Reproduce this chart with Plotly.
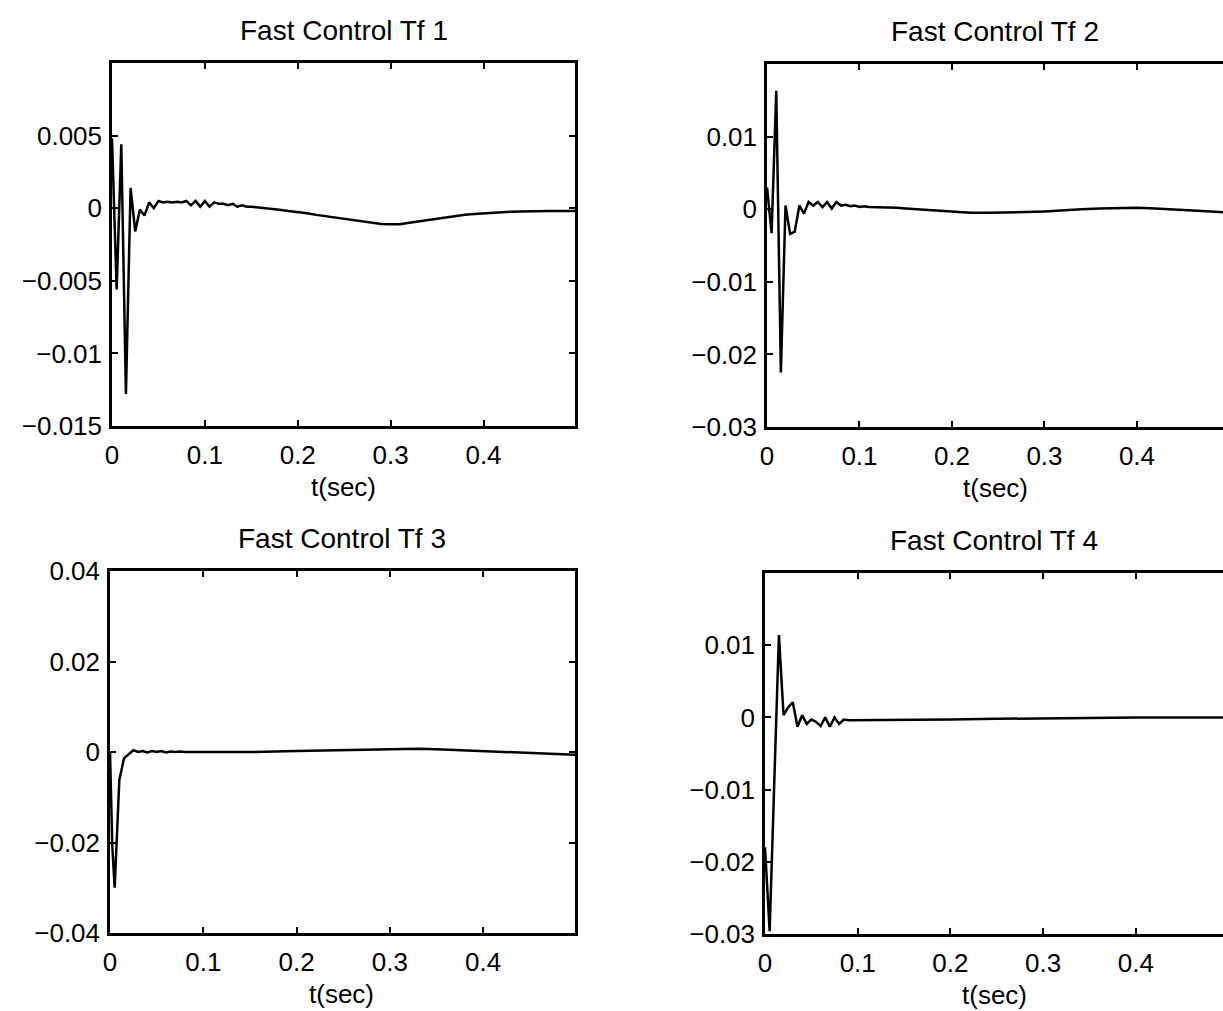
import plotly.graph_objects as go

# ---------------- data ----------------
t1 = [0, 0.005, 0.01, 0.015, 0.02, 0.025, 0.03, 0.035, 0.04, 0.045, 0.05, 0.055, 0.06, 0.065,
      0.07, 0.075, 0.08, 0.085, 0.09, 0.095, 0.1, 0.105, 0.11, 0.115, 0.12, 0.125, 0.13, 0.135,
      0.14, 0.145, 0.15, 0.16, 0.17, 0.18, 0.19, 0.2, 0.21, 0.22, 0.23, 0.24, 0.25, 0.26, 0.27,
      0.28, 0.29, 0.3, 0.31, 0.32, 0.33, 0.34, 0.35, 0.36, 0.37, 0.38, 0.39, 0.4, 0.41, 0.42,
      0.43, 0.44, 0.45, 0.46, 0.47, 0.48, 0.49, 0.4985]
u1 = [0.0048, -0.0056, 0.0044, -0.0128, 0.0014, -0.0016, -0.0001, -0.0005, 0.0004, 0.0000,
      0.0005, 0.0004, 0.00045, 0.0004, 0.00045, 0.0004, 0.0005, 0.0002, 0.0005, 0.0001, 0.0005,
      0.0001, 0.0004, 0.0003, 0.0003, 0.0002, 0.0003, 0.0001, 0.0002, 0.0001, 0.0001, 0.00005,
      -0.00003, -0.0001, -0.0002, -0.00025, -0.00035, -0.00046, -0.00055, -0.00065, -0.00075,
      -0.00085, -0.00095, -0.001, -0.00108, -0.0011, -0.0011, -0.001, -0.0009, -0.0008, -0.0007,
      -0.0006, -0.0005, -0.00045, -0.0004, -0.00035, -0.0003, -0.00027, -0.00024, -0.00022,
      -0.0002, -0.0002, -0.0002, -0.0002, -0.0002, -0.0002]

t2 = [0, 0.005, 0.01, 0.015, 0.02, 0.025, 0.03, 0.035, 0.04, 0.045, 0.05, 0.055, 0.06, 0.065,
      0.07, 0.075, 0.08, 0.085, 0.09, 0.095, 0.1, 0.105, 0.11, 0.12, 0.13, 0.14, 0.15, 0.16,
      0.17, 0.18, 0.19, 0.2, 0.22, 0.24, 0.26, 0.28, 0.3, 0.32, 0.34, 0.36, 0.38, 0.4, 0.42,
      0.44, 0.46, 0.48, 0.5]
u2 = [0.003, -0.0033, 0.0163, -0.0225, 0.0005, -0.0034, -0.0031, 0.0005, -0.0006, 0.0010,
      0.0005, 0.0010, 0.0003, 0.0010, 0.0001, 0.0010, 0.0005, 0.0006, 0.0004, 0.0005, 0.0003,
      0.0004, 0.0003, 0.0003, 0.0002, 0.0002, 0.0001, 0.0000, -0.0001, -0.0002, -0.0003,
      -0.0004, -0.0005, -0.0005, -0.0005, -0.0004, -0.0003, -0.0001, 0.0000, 0.0001, 0.0002,
      0.0002, 0.0001, 0.0000, -0.0002, -0.0003, -0.0005]

t3 = [0, 0.0025, 0.005, 0.01, 0.015, 0.02, 0.025, 0.03, 0.035, 0.04, 0.045, 0.05, 0.055, 0.06,
      0.065, 0.07, 0.075, 0.08, 0.09, 0.1, 0.15, 0.2, 0.25, 0.3, 0.33, 0.35, 0.4, 0.45, 0.4985]
u3 = [0.0, -0.021, -0.030, -0.0062, -0.0014, -0.0005, 0.0004, 0.0000, 0.0002, -0.0001, 0.0002,
      0.0000, 0.0002, -0.0001, 0.0001, 0.0000, 0.0001, 0.0000, 0.0000, 0.0000, 0.0000, 0.0002,
      0.0004, 0.0006, 0.0007, 0.0006, 0.0002, -0.0002, -0.0006]

t4 = [0, 0.005, 0.01, 0.015, 0.02, 0.025, 0.03, 0.035, 0.04, 0.045, 0.05, 0.055, 0.06, 0.065,
      0.07, 0.075, 0.08, 0.085, 0.09, 0.1, 0.15, 0.2, 0.25, 0.3, 0.35, 0.4, 0.45, 0.5]
u4 = [-0.018, -0.0296, -0.009, 0.0114, 0.0003, 0.0014, 0.0021, -0.0013, 0.0003, -0.0009,
      -0.0003, -0.0006, -0.0012, 0.0000, -0.0013, 0.0000, -0.0009, -0.0003, -0.0004, -0.0004,
      -0.0004, -0.0003, -0.0002, -0.0001, -0.0001, 0.0000, 0.0000, 0.0000]

titles = ["Fast Control Tf 1", "Fast Control Tf 2", "Fast Control Tf 3", "Fast Control Tf 4"]
x_label = "t(sec)"
x_tickvals = [0, 0.1, 0.2, 0.3, 0.4]
x_ticktext = ["0", "0.1", "0.2", "0.3", "0.4"]
y1_tickvals = [-0.015, -0.01, -0.005, 0, 0.005]
y1_ticktext = ["\u22120.015", "\u22120.01", "\u22120.005", "0", "0.005"]
y2_tickvals = [-0.03, -0.02, -0.01, 0, 0.01]
y2_ticktext = ["\u22120.03", "\u22120.02", "\u22120.01", "0", "0.01"]
y3_tickvals = [-0.04, -0.02, 0, 0.02, 0.04]
y3_ticktext = ["\u22120.04", "\u22120.02", "0", "0.02", "0.04"]
y4_tickvals = [-0.03, -0.02, -0.01, 0, 0.01]
y4_ticktext = ["\u22120.03", "\u22120.02", "\u22120.01", "0", "0.01"]

# ---------------- layout geometry (pixels) ----------------
W, H = 1223, 1011
panels = [
    dict(l=112, r=575, t=63, b=426, xmax=0.4985, yr=[-0.015, 0.01], yv=y1_tickvals, yt=y1_ticktext, rb=True),
    dict(l=767, r=1223, t=64, b=427, xmax=0.493, yr=[-0.03, 0.02], yv=y2_tickvals, yt=y2_ticktext, rb=False),
    dict(l=110, r=575, t=571, b=933, xmax=0.4985, yr=[-0.04, 0.04], yv=y3_tickvals, yt=y3_ticktext, rb=True),
    dict(l=765, r=1223, t=573, b=934, xmax=0.494, yr=[-0.03, 0.02], yv=y4_tickvals, yt=y4_ticktext, rb=False),
]
series = [(t1, u1), (t2, u2), (t3, u3), (t4, u4)]

FONT = "Liberation Sans, Arial, Helvetica, sans-serif"
fig = go.Figure()
layout = dict(template="none", width=W, height=H, margin=dict(l=0, r=0, t=0, b=0, pad=0),
              autosize=False,
              paper_bgcolor="white", plot_bgcolor="white", showlegend=False,
              font=dict(family=FONT, size=26, color="black"))
annotations = []

for i, (p, (tt, uu)) in enumerate(zip(panels, series)):
    n = "" if i == 0 else str(i + 1)
    xd = [p["l"] / W, p["r"] / W]
    yd = [1 - p["b"] / H, 1 - p["t"] / H]
    layout["xaxis" + n] = dict(domain=xd, range=[0, p["xmax"]], anchor="y" + n,
                               tickvals=x_tickvals, ticktext=x_ticktext, automargin=False,
                               showline=True, linecolor="black", linewidth=2.5,
                               mirror="ticks", ticks="inside", ticklen=6, tickwidth=1.5,
                               tickcolor="black", showgrid=False, zeroline=False,
                               ticklabelstandoff=4,
                               tickfont=dict(family=FONT, size=26, color="black"))
    layout["yaxis" + n] = dict(domain=yd, range=p["yr"], anchor="x" + n,
                               tickvals=p["yv"], ticktext=p["yt"], automargin=False,
                               showline=True, linecolor="black", linewidth=2.5,
                               mirror="ticks" if p["rb"] else False,
                               ticks="inside", ticklen=6, tickwidth=1.5,
                               tickcolor="black", showgrid=False, zeroline=False,
                               ticklabelstandoff=2,
                               tickfont=dict(family=FONT, size=26, color="black"))
    fig.add_trace(go.Scatter(x=tt, y=uu, mode="lines", xaxis="x" + n, yaxis="y" + n,
                             line=dict(color="black", width=2.5)))
    cx = ((p["l"] + min(p["r"], p["l"] + 463)) / 2) / W
    annotations.append(dict(text=titles[i], x=cx, y=yd[1], xref="paper", yref="paper",
                            xanchor="center", yanchor="middle", yshift=33, showarrow=False,
                            font=dict(family=FONT, size=28, color="black")))
    annotations.append(dict(text=x_label, x=cx, y=yd[0], xref="paper", yref="paper",
                            xanchor="center", yanchor="middle", yshift=-61, showarrow=False,
                            font=dict(family=FONT, size=26, color="black")))

layout["annotations"] = annotations
fig.update_layout(**layout)
fig.write_html("out.html")
